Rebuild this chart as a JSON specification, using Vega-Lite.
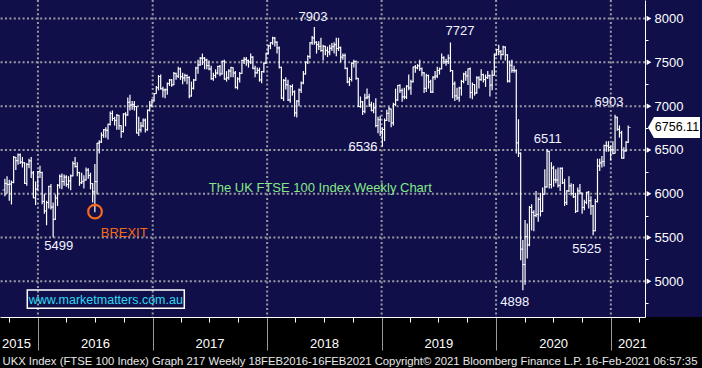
{
"$schema": "https://vega.github.io/schema/vega-lite/v6.json",
"width": 645, "height": 317,
"autosize": "none",
"padding": {"left": 0, "top": 0, "right": 57, "bottom": 51},
"background": "#000000",
"config": {"view": {"fill": "#100f4a", "stroke": null}, "font": "Liberation Sans"},
"resolve": {"axis": {"x": "independent", "y": "independent"}},
"datasets": {
"levels": [{"v":5000},{"v":5500},{"v":6000},{"v":6500},{"v":7000},{"v":7500},{"v":8000}],
"years": [{"gw":16.571},{"gw":68.857},{"gw":121},{"gw":173.143},{"gw":225.286},{"gw":277.571}],
"notes": [{"w":141.88,"v":7973,"t":"7903"},{"w":208.85,"v":7813,"t":"7727"},{"w":164.66,"v":6488,"t":"6536"},{"w":248.8,"v":6576,"t":"6511"},{"w":276.73,"v":7002,"t":"6903"},{"w":266.57,"v":5320,"t":"5525"},{"w":233.77,"v":4721,"t":"4898"},{"w":26.07,"v":5357,"t":"5499"}],
"ohlc": [
{"w":1.5,"o":6042,"h":6170,"l":5970,"c":6118},{"w":2.5,"o":6118,"h":6200,"l":6000,"c":6105},{"w":3.5,"o":6105,"h":6160,"l":5920,"c":6110},{"w":4.5,"o":6110,"h":6150,"l":5877,"c":6130},{"w":5.5,"o":6130,"h":6430,"l":6120,"c":6416},{"w":6.5,"o":6416,"h":6420,"l":6270,"c":6378},{"w":7.5,"o":6378,"h":6460,"l":6330,"c":6444},{"w":8.5,"o":6444,"h":6460,"l":6340,"c":6361},{"w":9.5,"o":6361,"h":6420,"l":6300,"c":6353},{"w":10.5,"o":6353,"h":6360,"l":6110,"c":6118},
{"w":11.5,"o":6118,"h":6350,"l":6090,"c":6334},{"w":12.5,"o":6334,"h":6400,"l":6290,"c":6375},{"w":13.5,"o":6375,"h":6420,"l":6180,"c":6238},{"w":14.5,"o":6238,"h":6260,"l":5950,"c":5952},{"w":15.5,"o":5952,"h":6140,"l":5870,"c":6052},{"w":16.5,"o":6052,"h":6260,"l":6040,"c":6254},{"w":17.5,"o":6254,"h":6320,"l":6180,"c":6242},{"w":18.5,"o":6242,"h":6250,"l":5880,"c":5912},{"w":19.5,"o":5912,"h":6000,"l":5770,"c":5804},{"w":20.5,"o":5804,"h":5920,"l":5640,"c":5900},
{"w":21.5,"o":5900,"h":6090,"l":5830,"c":6083},{"w":22.5,"o":6083,"h":6110,"l":5820,"c":5848},{"w":23.5,"o":5848,"h":5900,"l":5499,"c":5707},{"w":24.5,"o":5707,"h":5990,"l":5700,"c":5950},{"w":25.5,"o":5950,"h":6110,"l":5860,"c":6096},{"w":26.5,"o":6096,"h":6220,"l":6060,"c":6199},{"w":27.5,"o":6199,"h":6230,"l":6050,"c":6139},{"w":28.5,"o":6139,"h":6220,"l":6090,"c":6189},{"w":29.5,"o":6189,"h":6210,"l":6080,"c":6106},{"w":30.5,"o":6106,"h":6200,"l":6060,"c":6146},
{"w":31.5,"o":6146,"h":6220,"l":6040,"c":6204},{"w":32.5,"o":6204,"h":6370,"l":6200,"c":6343},{"w":33.5,"o":6343,"h":6420,"l":6300,"c":6310},{"w":34.5,"o":6310,"h":6360,"l":6200,"c":6241},{"w":35.5,"o":6241,"h":6250,"l":6090,"c":6125},{"w":36.5,"o":6125,"h":6240,"l":6110,"c":6138},{"w":37.5,"o":6138,"h":6210,"l":6060,"c":6156},{"w":38.5,"o":6156,"h":6300,"l":6150,"c":6270},{"w":39.5,"o":6270,"h":6290,"l":6170,"c":6209},{"w":40.5,"o":6209,"h":6240,"l":6050,"c":6115},
{"w":41.5,"o":6115,"h":6120,"l":5900,"c":6021},{"w":42.5,"o":6021,"h":6340,"l":5788,"c":6138},{"w":43.5,"o":6138,"h":6580,"l":5990,"c":6577},{"w":44.5,"o":6577,"h":6610,"l":6460,"c":6590},{"w":45.5,"o":6590,"h":6700,"l":6580,"c":6669},{"w":46.5,"o":6669,"h":6740,"l":6640,"c":6730},{"w":47.5,"o":6730,"h":6760,"l":6640,"c":6724},{"w":48.5,"o":6724,"h":6800,"l":6620,"c":6793},{"w":49.5,"o":6793,"h":6940,"l":6780,"c":6916},{"w":50.5,"o":6916,"h":6950,"l":6830,"c":6859},
{"w":51.5,"o":6859,"h":6880,"l":6780,"c":6838},{"w":52.5,"o":6838,"h":6910,"l":6730,"c":6895},{"w":53.5,"o":6895,"h":6900,"l":6730,"c":6777},{"w":54.5,"o":6777,"h":6780,"l":6640,"c":6710},{"w":55.5,"o":6710,"h":6920,"l":6700,"c":6910},{"w":56.5,"o":6910,"h":6930,"l":6770,"c":6899},{"w":57.5,"o":6899,"h":7100,"l":6890,"c":7044},{"w":58.5,"o":7044,"h":7130,"l":6950,"c":7013},{"w":59.5,"o":7013,"h":7060,"l":6960,"c":7020},{"w":60.5,"o":7020,"h":7060,"l":6950,"c":6996},
{"w":61.5,"o":6996,"h":7000,"l":6690,"c":6693},{"w":62.5,"o":6693,"h":6880,"l":6660,"c":6730},{"w":63.5,"o":6730,"h":6820,"l":6700,"c":6775},{"w":64.5,"o":6775,"h":6860,"l":6760,"c":6840},{"w":65.5,"o":6840,"h":6860,"l":6700,"c":6730},{"w":66.5,"o":6730,"h":6960,"l":6720,"c":6954},{"w":67.5,"o":6954,"h":7060,"l":6940,"c":7011},{"w":68.5,"o":7011,"h":7080,"l":6990,"c":7068},{"w":69.5,"o":7068,"h":7150,"l":7050,"c":7143},{"w":70.5,"o":7143,"h":7230,"l":7140,"c":7210},
{"w":71.5,"o":7210,"h":7354,"l":7180,"c":7338},{"w":72.5,"o":7338,"h":7360,"l":7190,"c":7198},{"w":73.5,"o":7198,"h":7220,"l":7100,"c":7184},{"w":74.5,"o":7184,"h":7200,"l":7090,"c":7188},{"w":75.5,"o":7188,"h":7270,"l":7130,"c":7258},{"w":76.5,"o":7258,"h":7310,"l":7230,"c":7299},{"w":77.5,"o":7299,"h":7310,"l":7220,"c":7243},{"w":78.5,"o":7243,"h":7390,"l":7240,"c":7374},{"w":79.5,"o":7374,"h":7380,"l":7300,"c":7343},{"w":80.5,"o":7343,"h":7450,"l":7320,"c":7425},
{"w":81.5,"o":7425,"h":7440,"l":7300,"c":7336},{"w":82.5,"o":7336,"h":7380,"l":7250,"c":7323},{"w":83.5,"o":7323,"h":7370,"l":7280,"c":7349},{"w":84.5,"o":7349,"h":7360,"l":7250,"c":7327},{"w":85.5,"o":7327,"h":7340,"l":7090,"c":7115},{"w":86.5,"o":7115,"h":7280,"l":7110,"c":7204},{"w":87.5,"o":7204,"h":7310,"l":7190,"c":7298},{"w":88.5,"o":7298,"h":7450,"l":7290,"c":7435},{"w":89.5,"o":7435,"h":7530,"l":7370,"c":7470},{"w":90.5,"o":7470,"h":7560,"l":7460,"c":7548},
{"w":91.5,"o":7548,"h":7600,"l":7470,"c":7548},{"w":92.5,"o":7548,"h":7560,"l":7420,"c":7527},{"w":93.5,"o":7527,"h":7540,"l":7420,"c":7464},{"w":94.5,"o":7464,"h":7520,"l":7410,"c":7424},{"w":95.5,"o":7424,"h":7460,"l":7300,"c":7313},{"w":96.5,"o":7313,"h":7380,"l":7290,"c":7350},{"w":97.5,"o":7350,"h":7420,"l":7320,"c":7378},{"w":98.5,"o":7378,"h":7460,"l":7360,"c":7453},{"w":99.5,"o":7453,"h":7470,"l":7340,"c":7368},{"w":100.5,"o":7368,"h":7520,"l":7360,"c":7511},
{"w":101.5,"o":7511,"h":7530,"l":7300,"c":7310},{"w":102.5,"o":7310,"h":7400,"l":7280,"c":7324},{"w":103.5,"o":7324,"h":7420,"l":7300,"c":7401},{"w":104.5,"o":7401,"h":7450,"l":7330,"c":7439},{"w":105.5,"o":7439,"h":7440,"l":7330,"c":7378},{"w":106.5,"o":7378,"h":7400,"l":7200,"c":7215},{"w":107.5,"o":7215,"h":7330,"l":7190,"c":7311},{"w":108.5,"o":7311,"h":7390,"l":7270,"c":7373},{"w":109.5,"o":7373,"h":7530,"l":7370,"c":7522},{"w":110.5,"o":7522,"h":7560,"l":7480,"c":7535},
{"w":111.5,"o":7535,"h":7560,"l":7460,"c":7523},{"w":112.5,"o":7523,"h":7530,"l":7440,"c":7505},{"w":113.5,"o":7505,"h":7600,"l":7480,"c":7560},{"w":114.5,"o":7560,"h":7570,"l":7420,"c":7432},{"w":115.5,"o":7432,"h":7460,"l":7330,"c":7380},{"w":116.5,"o":7380,"h":7440,"l":7370,"c":7409},{"w":117.5,"o":7409,"h":7440,"l":7280,"c":7300},{"w":118.5,"o":7300,"h":7400,"l":7260,"c":7394},{"w":119.5,"o":7394,"h":7500,"l":7380,"c":7490},{"w":120.5,"o":7490,"h":7610,"l":7480,"c":7603},
{"w":121.5,"o":7603,"h":7700,"l":7590,"c":7688},{"w":122.5,"o":7688,"h":7730,"l":7650,"c":7724},{"w":123.5,"o":7724,"h":7792,"l":7700,"c":7778},{"w":124.5,"o":7778,"h":7790,"l":7680,"c":7730},{"w":125.5,"o":7730,"h":7740,"l":7600,"c":7665},{"w":126.5,"o":7665,"h":7680,"l":7430,"c":7443},{"w":127.5,"o":7443,"h":7450,"l":7080,"c":7092},{"w":128.5,"o":7092,"h":7310,"l":7060,"c":7294},{"w":129.5,"o":7294,"h":7330,"l":7190,"c":7244},{"w":130.5,"o":7244,"h":7300,"l":7060,"c":7070},
{"w":131.5,"o":7070,"h":7240,"l":7040,"c":7224},{"w":132.5,"o":7224,"h":7250,"l":7120,"c":7164},{"w":133.5,"o":7164,"h":7180,"l":6880,"c":6922},{"w":134.5,"o":6922,"h":7070,"l":6870,"c":7057},{"w":135.5,"o":7057,"h":7200,"l":7000,"c":7184},{"w":136.5,"o":7184,"h":7280,"l":7150,"c":7265},{"w":137.5,"o":7265,"h":7400,"l":7250,"c":7368},{"w":138.5,"o":7368,"h":7510,"l":7360,"c":7502},{"w":139.5,"o":7502,"h":7580,"l":7480,"c":7567},{"w":140.5,"o":7567,"h":7730,"l":7540,"c":7724},
{"w":141.5,"o":7724,"h":7800,"l":7700,"c":7779},{"w":142.5,"o":7779,"h":7903,"l":7700,"c":7730},{"w":143.5,"o":7730,"h":7740,"l":7600,"c":7702},{"w":144.5,"o":7702,"h":7740,"l":7640,"c":7682},{"w":145.5,"o":7682,"h":7780,"l":7620,"c":7634},{"w":146.5,"o":7634,"h":7700,"l":7520,"c":7683},{"w":147.5,"o":7683,"h":7690,"l":7580,"c":7637},{"w":148.5,"o":7637,"h":7680,"l":7560,"c":7618},{"w":149.5,"o":7618,"h":7700,"l":7580,"c":7661},{"w":150.5,"o":7661,"h":7720,"l":7630,"c":7679},
{"w":151.5,"o":7679,"h":7730,"l":7600,"c":7701},{"w":152.5,"o":7701,"h":7780,"l":7570,"c":7659},{"w":153.5,"o":7659,"h":7780,"l":7630,"c":7667},{"w":154.5,"o":7667,"h":7680,"l":7500,"c":7559},{"w":155.5,"o":7559,"h":7600,"l":7530,"c":7577},{"w":156.5,"o":7577,"h":7600,"l":7420,"c":7432},{"w":157.5,"o":7432,"h":7440,"l":7260,"c":7277},{"w":158.5,"o":7277,"h":7330,"l":7230,"c":7304},{"w":159.5,"o":7304,"h":7500,"l":7280,"c":7490},{"w":160.5,"o":7490,"h":7530,"l":7440,"c":7510},
{"w":161.5,"o":7510,"h":7520,"l":7300,"c":7318},{"w":162.5,"o":7318,"h":7320,"l":6990,"c":6996},{"w":163.5,"o":6996,"h":7110,"l":6980,"c":7049},{"w":164.5,"o":7049,"h":7060,"l":6900,"c":6940},{"w":165.5,"o":6940,"h":7140,"l":6920,"c":7094},{"w":166.5,"o":7094,"h":7200,"l":7080,"c":7105},{"w":167.5,"o":7105,"h":7140,"l":6990,"c":7014},{"w":168.5,"o":7014,"h":7050,"l":6940,"c":6952},{"w":169.5,"o":6952,"h":7040,"l":6920,"c":6980},{"w":170.5,"o":6980,"h":7090,"l":6760,"c":6778},
{"w":171.5,"o":6778,"h":6880,"l":6690,"c":6845},{"w":172.5,"o":6845,"h":6890,"l":6660,"c":6711},{"w":173.5,"o":6711,"h":6760,"l":6536,"c":6733},{"w":174.5,"o":6733,"h":6860,"l":6600,"c":6837},{"w":175.5,"o":6837,"h":6960,"l":6830,"c":6918},{"w":176.5,"o":6918,"h":6990,"l":6820,"c":6968},{"w":177.5,"o":6968,"h":6970,"l":6760,"c":6809},{"w":178.5,"o":6809,"h":7040,"l":6780,"c":7020},{"w":179.5,"o":7020,"h":7200,"l":7000,"c":7071},{"w":180.5,"o":7071,"h":7240,"l":7060,"c":7237},
{"w":181.5,"o":7237,"h":7250,"l":7150,"c":7178},{"w":182.5,"o":7178,"h":7200,"l":7050,"c":7106},{"w":183.5,"o":7106,"h":7210,"l":7080,"c":7104},{"w":184.5,"o":7104,"h":7240,"l":7080,"c":7228},{"w":185.5,"o":7228,"h":7360,"l":7180,"c":7208},{"w":186.5,"o":7208,"h":7300,"l":7130,"c":7279},{"w":187.5,"o":7279,"h":7450,"l":7270,"c":7447},{"w":188.5,"o":7447,"h":7470,"l":7380,"c":7437},{"w":189.5,"o":7437,"h":7480,"l":7420,"c":7460},{"w":190.5,"o":7460,"h":7530,"l":7400,"c":7428},
{"w":191.5,"o":7428,"h":7440,"l":7340,"c":7380},{"w":192.5,"o":7380,"h":7390,"l":7150,"c":7203},{"w":193.5,"o":7203,"h":7370,"l":7160,"c":7348},{"w":194.5,"o":7348,"h":7360,"l":7200,"c":7277},{"w":195.5,"o":7277,"h":7300,"l":7150,"c":7161},{"w":196.5,"o":7161,"h":7340,"l":7150,"c":7331},{"w":197.5,"o":7331,"h":7400,"l":7300,"c":7345},{"w":198.5,"o":7345,"h":7450,"l":7320,"c":7407},{"w":199.5,"o":7407,"h":7440,"l":7360,"c":7426},{"w":200.5,"o":7426,"h":7600,"l":7420,"c":7553},
{"w":201.5,"o":7553,"h":7570,"l":7480,"c":7506},{"w":202.5,"o":7506,"h":7540,"l":7460,"c":7508},{"w":203.5,"o":7508,"h":7590,"l":7480,"c":7549},{"w":204.5,"o":7549,"h":7727,"l":7390,"c":7407},{"w":205.5,"o":7407,"h":7410,"l":7090,"c":7254},{"w":206.5,"o":7254,"h":7280,"l":7060,"c":7117},{"w":207.5,"o":7117,"h":7210,"l":7070,"c":7095},{"w":208.5,"o":7095,"h":7220,"l":7050,"c":7207},{"w":209.5,"o":7207,"h":7300,"l":7120,"c":7282},{"w":210.5,"o":7282,"h":7380,"l":7260,"c":7367},
{"w":211.5,"o":7367,"h":7400,"l":7290,"c":7345},{"w":212.5,"o":7345,"h":7430,"l":7240,"c":7426},{"w":213.5,"o":7426,"h":7440,"l":7090,"c":7155},{"w":214.5,"o":7155,"h":7270,"l":7080,"c":7247},{"w":215.5,"o":7247,"h":7250,"l":7120,"c":7150},{"w":216.5,"o":7150,"h":7340,"l":7140,"c":7324},{"w":217.5,"o":7324,"h":7340,"l":7200,"c":7302},{"w":218.5,"o":7302,"h":7420,"l":7290,"c":7359},{"w":219.5,"o":7359,"h":7370,"l":7270,"c":7303},{"w":220.5,"o":7303,"h":7360,"l":7220,"c":7326},
{"w":221.5,"o":7326,"h":7400,"l":7310,"c":7347},{"w":222.5,"o":7347,"h":7360,"l":7110,"c":7240},{"w":223.5,"o":7240,"h":7410,"l":7180,"c":7353},{"w":224.5,"o":7353,"h":7600,"l":7350,"c":7582},{"w":225.5,"o":7582,"h":7650,"l":7580,"c":7645},{"w":226.5,"o":7645,"h":7700,"l":7580,"c":7622},{"w":227.5,"o":7622,"h":7640,"l":7530,"c":7588},{"w":228.5,"o":7588,"h":7690,"l":7580,"c":7675},{"w":229.5,"o":7675,"h":7680,"l":7520,"c":7586},{"w":230.5,"o":7586,"h":7590,"l":7270,"c":7286},
{"w":231.5,"o":7286,"h":7520,"l":7270,"c":7466},{"w":232.5,"o":7466,"h":7530,"l":7380,"c":7409},{"w":233.5,"o":7409,"h":7460,"l":7380,"c":7404},{"w":234.5,"o":7404,"h":7420,"l":6460,"c":6581},{"w":235.5,"o":6581,"h":6850,"l":6420,"c":6463},{"w":236.5,"o":6463,"h":6470,"l":5240,"c":5366},{"w":237.5,"o":5366,"h":5470,"l":4898,"c":5191},{"w":238.5,"o":5191,"h":5700,"l":4960,"c":5510},{"w":239.5,"o":5510,"h":5660,"l":5260,"c":5416},{"w":240.5,"o":5416,"h":5860,"l":5400,"c":5843},
{"w":241.5,"o":5843,"h":5880,"l":5580,"c":5787},{"w":242.5,"o":5787,"h":5810,"l":5570,"c":5752},{"w":243.5,"o":5752,"h":6030,"l":5730,"c":5763},{"w":244.5,"o":5763,"h":5960,"l":5680,"c":5936},{"w":245.5,"o":5936,"h":6010,"l":5740,"c":5800},{"w":246.5,"o":5800,"h":6070,"l":5790,"c":5993},{"w":247.5,"o":5993,"h":6280,"l":5990,"c":6077},{"w":248.5,"o":6077,"h":6511,"l":6070,"c":6484},{"w":249.5,"o":6484,"h":6490,"l":6060,"c":6105},{"w":250.5,"o":6105,"h":6360,"l":6060,"c":6293},
{"w":251.5,"o":6293,"h":6320,"l":6080,"c":6159},{"w":252.5,"o":6159,"h":6280,"l":6120,"c":6157},{"w":253.5,"o":6157,"h":6300,"l":6070,"c":6095},{"w":254.5,"o":6095,"h":6300,"l":6030,"c":6290},{"w":255.5,"o":6290,"h":6300,"l":6110,"c":6124},{"w":256.5,"o":6124,"h":6170,"l":5860,"c":5898},{"w":257.5,"o":5898,"h":6040,"l":5870,"c":6032},{"w":258.5,"o":6032,"h":6200,"l":6020,"c":6090},{"w":259.5,"o":6090,"h":6120,"l":5980,"c":6001},{"w":260.5,"o":6001,"h":6110,"l":5950,"c":5964},
{"w":261.5,"o":5964,"h":6010,"l":5780,"c":5800},{"w":262.5,"o":5800,"h":6070,"l":5790,"c":6032},{"w":263.5,"o":6032,"h":6110,"l":5990,"c":6007},{"w":264.5,"o":6007,"h":6010,"l":5770,"c":5843},{"w":265.5,"o":5843,"h":5930,"l":5810,"c":5902},{"w":266.5,"o":5902,"h":6020,"l":5880,"c":6017},{"w":267.5,"o":6017,"h":6030,"l":5830,"c":5920},{"w":268.5,"o":5920,"h":5970,"l":5760,"c":5860},{"w":269.5,"o":5860,"h":5870,"l":5525,"c":5577},{"w":270.5,"o":5577,"h":5940,"l":5570,"c":5910},
{"w":271.5,"o":5910,"h":6400,"l":5900,"c":6316},{"w":272.5,"o":6316,"h":6400,"l":6260,"c":6351},{"w":273.5,"o":6351,"h":6430,"l":6300,"c":6368},{"w":274.5,"o":6368,"h":6560,"l":6310,"c":6550},{"w":275.5,"o":6550,"h":6600,"l":6480,"c":6546},{"w":276.5,"o":6546,"h":6600,"l":6480,"c":6529},{"w":277.5,"o":6529,"h":6550,"l":6380,"c":6502},{"w":278.5,"o":6502,"h":6600,"l":6450,"c":6461},{"w":279.5,"o":6461,"h":6903,"l":6460,"c":6873},{"w":280.5,"o":6873,"h":6880,"l":6720,"c":6736},
{"w":281.5,"o":6736,"h":6780,"l":6640,"c":6695},{"w":282.5,"o":6695,"h":6720,"l":6400,"c":6407},{"w":283.5,"o":6407,"h":6530,"l":6400,"c":6489},{"w":284.5,"o":6489,"h":6600,"l":6480,"c":6589},{"w":285.5,"o":6589,"h":6780,"l":6580,"c":6756}
]
},
"layer": [
{"data": {"values": [{}]}, "mark": {"type": "rect", "color": "#100f4a", "stroke": null},
 "encoding": {"x": {"datum": 293.14, "type": "quantitative", "axis": null}, "x2": {"datum": 330}}},
{"data": {"name": "levels"}, "mark": {"type": "rule", "color": "#9a9aa2", "strokeWidth": 2, "strokeDash": [2, 2.4]},
 "encoding": {"y": {"field": "v", "type": "quantitative",
   "axis": {"orient": "right", "title": null, "grid": false, "zindex": 1, "domain": false, "labels": false,
    "values": [4750, 5250, 5750, 6250, 6750, 7250, 7750], "tickSize": 3, "tickColor": "#ffffff"}}}},
{"data": {"name": "years"}, "mark": {"type": "rule", "color": "#9a9aa2", "strokeWidth": 2, "strokeDash": [2, 2.4]},
 "encoding": {"x": {"field": "gw", "type": "quantitative",
   "axis": {"orient": "bottom", "grid": false, "zindex": 1, "domain": false,
    "values": [6.58, 287.2], "labelExpr": "datum.value < 100 ? '2015' : '2021'",
    "tickSize": 5, "tickColor": "transparent",
    "labelColor": "#ffffff", "labelFont": "Liberation Sans", "labelFontSize": 13, "labelPadding": 15,
    "labelOverlap": false, "labelBound": false, "labelFlush": false,
    "title": "UKX Index (FTSE 100 Index) Graph 217  Weekly 18FEB2016-16FEB2021 Copyright© 2021 Bloomberg Finance L.P.  16-Feb-2021 06:57:35",
    "titleAnchor": "start", "titleAlign": "left", "titleBaseline": "alphabetic", "titleX": 2, "titleY": 47,
    "titleColor": "#e8e8e8", "titleFont": "Liberation Sans", "titleFontSize": 11.3, "titleFontWeight": "normal", "titleLimit": 1000}}}},
{"data": {"name": "ohlc"}, "mark": {"type": "rule", "color": "#ffffff", "strokeWidth": 1.2},
 "encoding": {
  "x": {"field": "w", "type": "quantitative", "scale": {"domain": [-0.714, 293.14], "nice": false, "zero": false},
   "axis": {"orient": "bottom", "title": null, "grid": false, "zindex": 1,
    "values": [3.429, 16.571, 29.571, 42.571, 55.714, 68.857, 81.714, 94.714, 107.857, 121, 133.857, 146.857, 160, 173.143, 186, 199, 212.143, 225.286, 238.286, 251.286, 264.429, 277.571, 290.429],
    "labelExpr": "datum.value == 42.571 ? '2016' : datum.value == 94.714 ? '2017' : datum.value == 146.857 ? '2018' : datum.value == 199 ? '2019' : datum.value == 251.286 ? '2020' : ''",
    "tickSize": {"condition": {"test": "indexof([16.571,68.857,121,173.143,225.286,277.571], datum.value) >= 0", "value": 33}, "value": 5},
    "tickColor": {"condition": {"test": "indexof([16.571,68.857,121,173.143,225.286,277.571], datum.value) >= 0", "value": "#9a9a9a"}, "value": "#ffffff"},
    "domainColor": "#ffffff", "labelColor": "#ffffff", "labelFont": "Liberation Sans", "labelFontSize": 13, "labelPadding": 15,
    "labelOverlap": false, "labelBound": false, "labelFlush": false}},
  "y": {"field": "l", "type": "quantitative", "scale": {"domain": [4592, 8212], "nice": false, "zero": false},
   "axis": {"orient": "right", "title": null, "grid": false, "zindex": 2,
    "values": [5000, 5500, 6000, 6500, 7000, 7500, 8000], "format": "d",
    "tickSize": 3, "tickColor": "transparent",
    "domainColor": "#ffffff", "labelColor": "#ffffff", "labelFont": "Liberation Sans", "labelFontSize": 13, "labelPadding": 6,
    "labelOverlap": false, "labelBound": false, "labelFlush": false}},
  "y2": {"field": "h"}}},
{"data": {"name": "ohlc"}, "mark": {"type": "tick", "orient": "horizontal", "color": "#ffffff", "size": 2.5, "thickness": 1, "xOffset": -1.2},
 "encoding": {"x": {"field": "w", "type": "quantitative", "axis": null}, "y": {"field": "o", "type": "quantitative", "axis": null}}},
{"data": {"name": "ohlc"}, "mark": {"type": "tick", "orient": "horizontal", "color": "#ffffff", "size": 2.5, "thickness": 1, "xOffset": 1.2},
 "encoding": {"x": {"field": "w", "type": "quantitative", "axis": null}, "y": {"field": "c", "type": "quantitative", "axis": null}}},
{"data": {"name": "levels"}, "mark": {"type": "point", "shape": "triangle-right", "filled": true, "color": "#ffffff", "size": 30, "opacity": 1},
 "encoding": {"x": {"datum": 294.96, "type": "quantitative", "axis": null}, "y": {"field": "v", "type": "quantitative", "axis": null}}},
{"data": {"name": "notes"}, "mark": {"type": "text", "color": "#f4f4ff", "font": "Liberation Sans", "fontSize": 13, "align": "center", "baseline": "alphabetic"},
 "encoding": {"x": {"field": "w", "type": "quantitative", "axis": null}, "y": {"field": "v", "type": "quantitative", "axis": null}, "text": {"field": "t"}}},
{"data": {"values": [{}]}, "mark": {"type": "text", "text": "BREXIT", "color": "#f26b1d", "font": "Liberation Sans", "fontSize": 13, "align": "center", "baseline": "alphabetic"},
 "encoding": {"x": {"datum": 55.87, "type": "quantitative", "axis": null}, "y": {"datum": 5509, "type": "quantitative", "axis": null}}},
{"data": {"values": [{}]}, "mark": {"type": "point", "shape": "circle", "filled": false, "stroke": "#f26b1d", "strokeWidth": 2.2, "size": 186, "opacity": 1},
 "encoding": {"x": {"datum": 42.57, "type": "quantitative", "axis": null}, "y": {"datum": 5795, "type": "quantitative", "axis": null}}},
{"data": {"values": [{}]}, "mark": {"type": "text", "text": "The UK FTSE 100 Index Weekly Chart", "color": "#86e886", "font": "Liberation Sans", "fontSize": 13, "align": "center", "baseline": "alphabetic"},
 "encoding": {"x": {"datum": 145.2, "type": "quantitative", "axis": null}, "y": {"datum": 6014, "type": "quantitative", "axis": null}}},
{"data": {"values": [{}]}, "mark": {"type": "rect", "fill": null, "fillOpacity": 0, "stroke": "#ffffff", "strokeWidth": 1.5},
 "encoding": {"x": {"datum": 11.72, "type": "quantitative", "axis": null}, "x2": {"datum": 83.25}, "y": {"datum": 4900.6, "type": "quantitative", "axis": null}, "y2": {"datum": 4691.6}}},
{"data": {"values": [{}]}, "mark": {"type": "text", "text": "www.marketmatters.com.au", "color": "#2fd8f2", "font": "Liberation Sans", "fontSize": 12.5, "align": "center", "baseline": "alphabetic"},
 "encoding": {"x": {"datum": 47.49, "type": "quantitative", "axis": null}, "y": {"datum": 4741, "type": "quantitative", "axis": null}}},
{"data": {"values": [{}]}, "mark": {"type": "point", "shape": "M-1,0L-0.77,-0.4L1,-0.4L1,0.4L-0.77,0.4Z", "filled": true, "color": "#ffffff", "size": 2704, "opacity": 1},
 "encoding": {"x": {"datum": 306.35, "type": "quantitative", "axis": null}, "y": {"datum": 6756.11, "type": "quantitative", "axis": null}}},
{"data": {"values": [{}]}, "mark": {"type": "text", "text": "6756.11", "color": "#000000", "font": "Liberation Sans", "fontSize": 12.5, "align": "center", "baseline": "middle"},
 "encoding": {"x": {"datum": 307.7, "type": "quantitative", "axis": null}, "y": {"datum": 6756.11, "type": "quantitative", "axis": null}}}
]
}
